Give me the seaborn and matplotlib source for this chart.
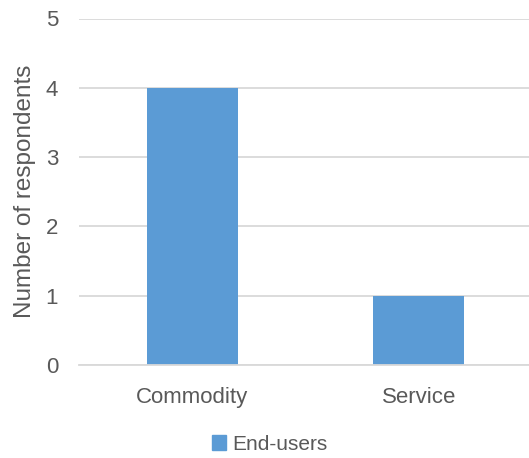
import matplotlib
matplotlib.use("Agg")
import matplotlib.pyplot as plt
import seaborn as sns
import pandas as pd

# data
categories = ["Commodity", "Service"]
respondents = [4, 1]
series_name = "End-users"

BAR = "#5B9BD5"
TEXT = "#595959"
GRID = "#D9D9D9"

sns.set_style("white")
plt.rcParams["font.family"] = ["Liberation Sans", "DejaVu Sans"]

df = pd.DataFrame({"Category": categories, "Respondents": respondents, "Group": series_name})

fig = plt.figure(figsize=(5.29, 4.58), dpi=100)
ax = fig.add_axes([79 / 529, 93 / 458, 453 / 529, 346.5 / 458])

sns.barplot(data=df, x="Category", y="Respondents", hue="Group",
            palette=[BAR], width=0.40, saturation=1, linewidth=0,
            ax=ax, legend=False)

ax.set_ylim(0, 5)
ax.set_xlim(-0.5, 1.5)
ax.set_yticks(range(0, 6))
ax.yaxis.grid(True, color=GRID, linewidth=1.3)
ax.set_axisbelow(True)
for s in ["top", "right", "left"]:
    ax.spines[s].set_visible(False)
ax.spines["bottom"].set_color(GRID)
ax.spines["bottom"].set_linewidth(1.3)

ax.tick_params(axis="both", length=0, labelsize=16, labelcolor=TEXT)
ax.tick_params(axis="y", pad=15)
ax.tick_params(axis="x", pad=16)
ax.set_xlabel("")
ax.set_ylabel("Number of respondents", fontsize=17.5, color=TEXT, labelpad=7)

handle = plt.Rectangle((0, 0), 1, 1, color=BAR)
fig.legend([handle], [series_name], loc="lower center", bbox_to_anchor=(0.51, -0.032),
           frameon=False, fontsize=15, labelcolor=TEXT, handlelength=0.7,
           handleheight=0.7, handletextpad=0.3)

fig.savefig("out.png", dpi=100)
